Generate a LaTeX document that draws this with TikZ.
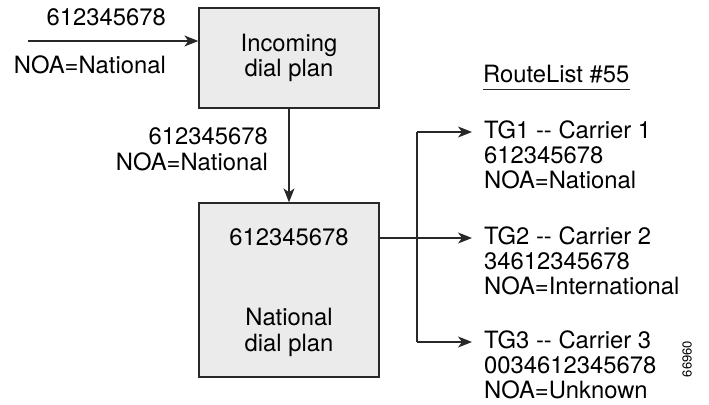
\documentclass[tikz,border=0pt]{standalone}
\usepackage{fontspec}
\setmainfont{TeX Gyre Heros}
\usetikzlibrary{arrows.meta}
\definecolor{boxfill}{RGB}{235,235,235}
\definecolor{boxline}{RGB}{40,40,40}
\begin{document}
\begin{tikzpicture}[x=1pt,y=-1pt,
  plan/.style={draw=boxline,line width=1.3pt,fill=boxfill,inner sep=0pt},
  lbl/.style={inner sep=0pt,font=\fontsize{23.8}{25}\selectfont},
  arr/.style={draw=boxline,line width=1.3pt,-{Stealth[length=14pt,width=11pt,inset=4pt]}},
  ln/.style={draw=boxline,line width=1.3pt}]
\useasboundingbox (0,0) rectangle (709,404);
% boxes
\node[plan,minimum width=180pt,minimum height=100pt] (inc) at (289,58) {};
\node[plan,minimum width=180pt,minimum height=174pt] (nat) at (289,290) {};
% box texts
\node[lbl,anchor=base] (incA) at (289,52) {Incoming};
\node[lbl,anchor=base] (incB) at (289,77) {dial plan};
\node[lbl,anchor=base] (natN) at (289,245) {612345678};
\node[lbl,anchor=base] (natA) at (289,325) {National};
\node[lbl,anchor=base] (natB) at (289,351) {dial plan};
% input
\coordinate (inStart) at (28,41);
\draw[arr] (inStart) -- (inStart -| inc.west);
\node[lbl,anchor=base east] (inNum) at (166,26) {612345678};
\node[lbl,anchor=base east] (inNoa) at (166,74) {NOA=National};
% down
\draw[arr] (inc.south) -- (nat.north);
\node[lbl,anchor=base east] (dnNum) at (268,144) {612345678};
\node[lbl,anchor=base east] (dnNoa) at (268,170) {NOA=National};
% route list
\node[lbl,anchor=base west] (rl) at (483,82) {RouteList \#55};
\draw[line width=1pt,boxline] (rl.west |- 0,89) coordinate (ulA) -- (rl.east |- 0,89) coordinate (ulB);
% branches
\coordinate (split) at (417,238);
\coordinate (top) at (417,132);
\coordinate (bot) at (417,342);
\coordinate (t1) at (472,132);
\coordinate (t2) at (472,238);
\coordinate (t3) at (472,342);
\draw[arr] (nat.east |- split) -- (t2);
\draw[ln] (top) -- (bot);
\draw[arr] (top) -- (t1);
\draw[arr] (bot) -- (t3);
% TG texts
\node[lbl,anchor=base west] (g1a) at (484,138) {TG1 {-}{-} Carrier 1};
\node[lbl,anchor=base west] (g1b) at (484,163) {612345678};
\node[lbl,anchor=base west] (g1c) at (484,188) {NOA=National};
\node[lbl,anchor=base west] (g2a) at (484,244) {TG2 {-}{-} Carrier 2};
\node[lbl,anchor=base west] (g2b) at (484,269) {34612345678};
\node[lbl,anchor=base west] (g2c) at (484,294) {NOA=International};
\node[lbl,anchor=base west] (g3a) at (484,348) {TG3 {-}{-} Carrier 3};
\node[lbl,anchor=base west] (g3b) at (484,373) {0034612345678};
\node[lbl,anchor=base west] (g3c) at (484,398) {NOA=Unknown};
% figure id
\node[inner sep=0pt,font=\fontsize{13}{14}\selectfont,rotate=90] (fid) at (687,359) {66960};
\end{tikzpicture}
\end{document}
